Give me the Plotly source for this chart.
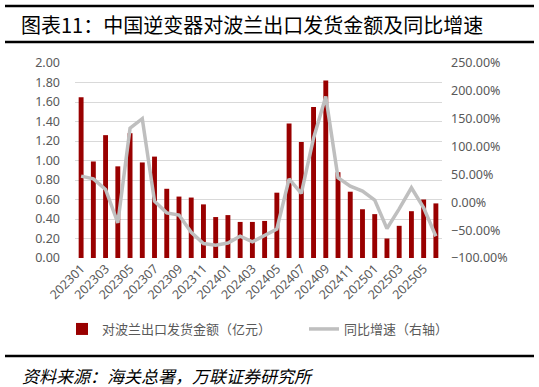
import plotly.graph_objects as go

months = ["202301","202302","202303","202304","202305","202306","202307","202308","202309","202310",
          "202311","202312","202401","202402","202403","202404","202405","202406","202407","202408",
          "202409","202410","202411","202412","202501","202502","202503","202504","202505","202506"]
amount = [1.65,0.99,1.26,0.94,1.28,0.98,1.04,0.71,0.63,0.62,
          0.55,0.42,0.44,0.37,0.37,0.38,0.67,1.38,1.19,1.55,
          1.82,0.88,0.68,0.50,0.45,0.20,0.33,0.48,0.60,0.56]
yoy = [0.47,0.42,0.23,-0.37,1.33,1.50,0.02,-0.19,-0.23,-0.54,
       -0.74,-0.77,-0.73,-0.61,-0.71,-0.60,-0.48,0.42,0.16,1.15,
       1.90,0.44,0.29,0.20,0.04,-0.47,-0.12,0.26,-0.10,-0.61]
tick_labels = months[::2]

bar_name = "对波兰出口发货金额（亿元）"
line_name = "同比增速（右轴）"
title = "图表11：中国逆变器对波兰出口发货金额及同比增速"
source = "资料来源：海关总署，万联证券研究所"

font_cjk = "Noto Sans CJK SC"
grey = "#595959"

fig = go.Figure()
fig.add_trace(go.Bar(x=months, y=amount, name=bar_name, marker_color="#990000",
                     marker_line_width=0, width=0.4, yaxis="y", legend="legend"))
fig.add_trace(go.Scatter(x=months, y=yoy, name=line_name, mode="lines",
                         line=dict(color="#BFBFBF", width=3.5), yaxis="y2", legend="legend2"))

W, H = 539, 387
L, R, T, B = 75, 97, 63, 129
pw, ph = W - L - R, H - T - B
def px(x): return (x - L) / pw
def py(y): return (H - B - y) / ph

leg_font = dict(size=13, color=grey, family=font_cjk)
fig.update_layout(
    width=W, height=H, margin=dict(l=L, r=R, t=T, b=B, autoexpand=False),
    paper_bgcolor="white", plot_bgcolor="white",
    font=dict(family=font_cjk, color=grey, size=12),
    xaxis=dict(type="category", tickmode="array", tickvals=tick_labels, ticktext=tick_labels,
               tickangle=-45, tickfont=dict(size=12.5, color=grey, family="Noto Sans"),
               showgrid=False, showline=False, ticks="", range=[-0.5, 29.5]),
    yaxis=dict(range=[0, 2.0], dtick=0.2, tickformat=".2f", showgrid=True, gridcolor="#D9D9D9",
               gridwidth=1, zeroline=False, showline=False, ticks="",
               tickfont=dict(size=12.5, color=grey, family="Noto Sans"), ticklabelstandoff=14),
    yaxis2=dict(range=[-1.0, 2.5], dtick=0.5, tickformat=".2%", overlaying="y", side="right",
                showgrid=False, zeroline=False, showline=False, ticks="",
                tickfont=dict(size=12.5, color=grey, family="Noto Sans"), ticklabelstandoff=8),
    legend=dict(orientation="h", x=px(62), y=py(329), xanchor="left", yanchor="middle",
                font=leg_font, bgcolor="rgba(0,0,0,0)", itemwidth=30),
    legend2=dict(orientation="h", x=px(304), y=py(329), xanchor="left", yanchor="middle",
                 font=leg_font, bgcolor="rgba(0,0,0,0)", itemwidth=30),
    showlegend=True,
)

for yline in (6, 42, 356):
    fig.add_shape(type="line", xref="paper", yref="paper", x0=px(5), x1=px(534),
                  y0=py(yline), y1=py(yline), line=dict(color="black", width=2.5))
fig.add_annotation(text=title, xref="paper", yref="paper", x=px(19), y=py(24), xanchor="left",
                   yanchor="middle", showarrow=False, font=dict(size=20, color="black", family=font_cjk))
fig.add_annotation(text="<i>" + source + "</i>", xref="paper", yref="paper", x=px(20), y=py(375),
                   xanchor="left", yanchor="middle", showarrow=False,
                   font=dict(size=17, color="black", family=font_cjk))

fig.write_html("out.html", config={"displayModeBar": False},
               post_script="document.body.style.margin='0';")
